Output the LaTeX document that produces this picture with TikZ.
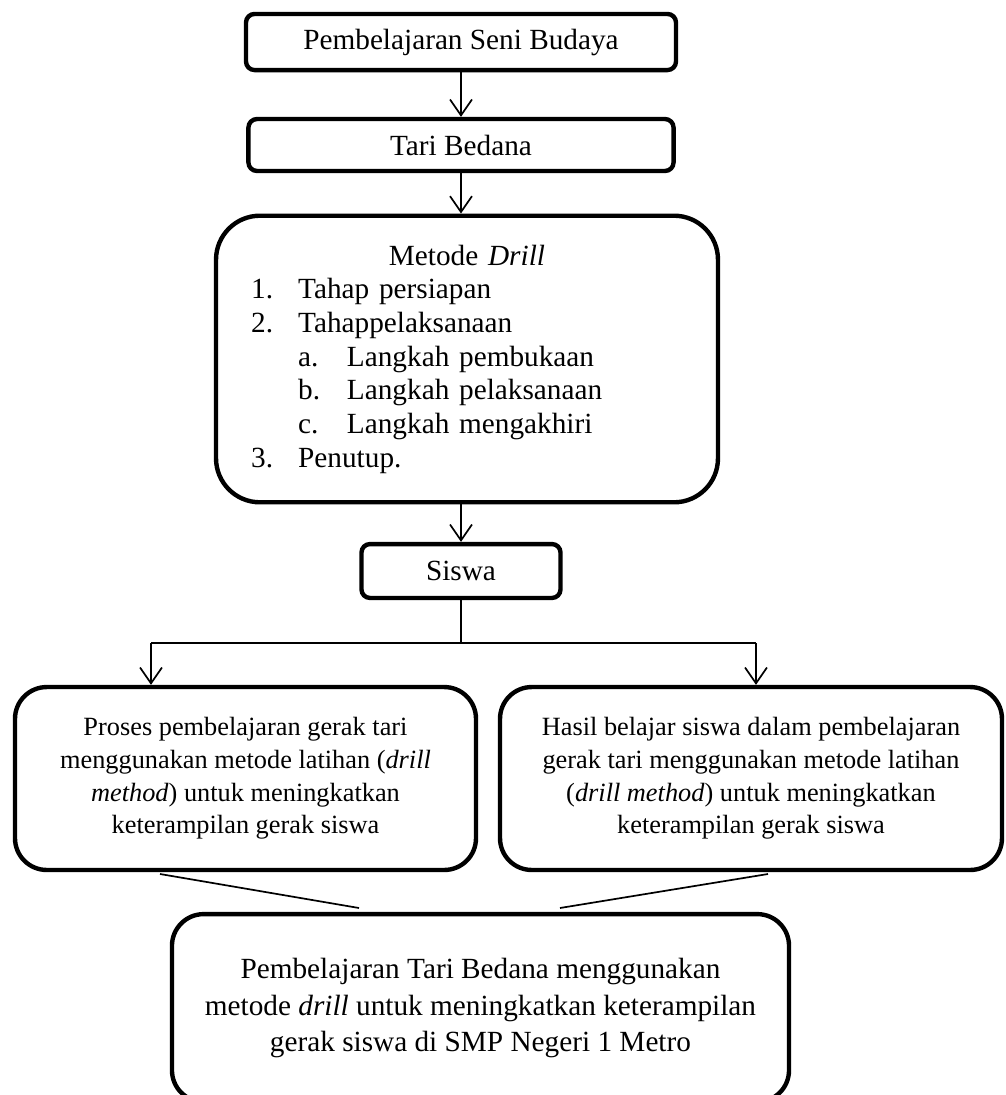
\documentclass[tikz,border=0pt]{standalone}
\usepackage{fontspec}
\setmainfont{Liberation Serif}
\usetikzlibrary{arrows.meta}

\begin{document}
\begin{tikzpicture}[x=0.41pt, y=-0.41pt,
kotak/.style={draw, line width=1.8pt, rounded corners=3.5pt, align=center, inner sep=0pt, font=\fontsize{12}{13.8}\selectfont},
kotakbesar/.style={kotak, rounded corners=13pt},
teks kecil/.style={font=\fontsize{10.8}{13.4}\selectfont},
panah/.style={-{Straight Barb[length=6.5pt, width=9pt]}, line width=0.7pt}]
\clip (0,0) rectangle (1006,1095);
% Define nodes
\path (461,42)
node[kotak, minimum width=176.3pt, minimum height=23pt] (budaya) {Pembelajaran Seni Budaya}
(461,145)
node[kotak, minimum width=174.3pt, minimum height=21.3pt] (tari) {Tari Bedana}
(467,359)
node[kotakbesar, rounded corners=18pt, minimum width=205.8pt, minimum height=117.5pt, align=left, text width=177pt] (metode)
{\makebox[177pt]{Metode \textit{Drill}}\\
\makebox[19.3pt][l]{1.}Tahap persiapan\\
\makebox[19.3pt][l]{2.}Tahappelaksanaan\\
\hspace*{19.3pt}\makebox[20pt][l]{a.}Langkah pembukaan\\
\hspace*{19.3pt}\makebox[20pt][l]{b.}Langkah pelaksanaan\\
\hspace*{19.3pt}\makebox[20pt][l]{c.}Langkah mengakhiri\\
\makebox[19.3pt][l]{3.}Penutup.}
(461,571)
node[kotak, minimum width=81.6pt, minimum height=22.1pt] (siswa) {Siswa}
(245.5,778.5)
node[kotakbesar, teks kecil, minimum width=189pt, minimum height=75pt] (proses)
{Proses pembelajaran gerak tari\\ menggunakan metode latihan (\textit{drill}\\ \textit{method}) untuk meningkatkan\\ keterampilan gerak siswa}
(751,778.5)
node[kotakbesar, teks kecil, minimum width=205.8pt, minimum height=75pt] (hasil)
{Hasil belajar siswa dalam pembelajaran\\ gerak tari menggunakan metode latihan\\ (\textit{drill method}) untuk meningkatkan\\ keterampilan gerak siswa}
(480.5,1008)
node[kotakbesar, minimum width=253pt, minimum height=77pt, font=\fontsize{12}{15}\selectfont] (kesimpulan)
{Pembelajaran Tari Bedana menggunakan\\ metode \textit{drill} untuk meningkatkan keterampilan\\ gerak siswa di SMP Negeri 1 Metro}
;

\coordinate (cabang) at (461,643);
\coordinate (cabangkiri) at (151,643);
\coordinate (cabangkanan) at (756,643);
\coordinate (kiriatas) at (160,874);
\coordinate (kiribawah) at (359,908);
\coordinate (kananatas) at (768,874);
\coordinate (kananbawah) at (560,908);

\draw[panah] (budaya) -- (tari);
\draw[panah] (tari) -- (tari |- metode.north);
\draw[panah] (siswa |- metode.south) -- (siswa);
\draw[line width=0.7pt] (siswa) -- (cabang);
\draw[line width=0.7pt] (cabangkiri) -- (cabangkanan);
\draw[panah] (cabangkiri) -- (cabangkiri |- proses.north);
\draw[panah] (cabangkanan) -- (cabangkanan |- hasil.north);
\draw[line width=0.7pt] (kiriatas) -- (kiribawah);
\draw[line width=0.7pt] (kananatas) -- (kananbawah);

\end{tikzpicture}
\end{document}
